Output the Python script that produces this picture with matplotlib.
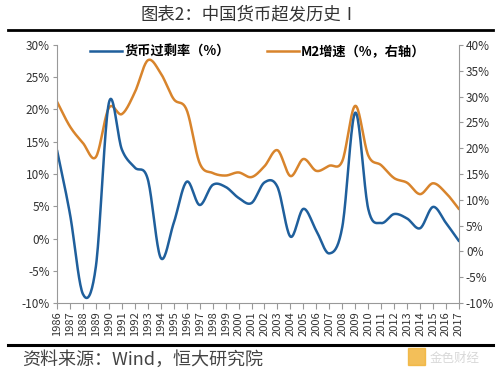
import numpy as np
import matplotlib.pyplot as plt
from matplotlib.lines import Line2D

plt.rcParams['font.family'] = ['Liberation Sans Narrow', 'Noto Sans CJK SC', 'DejaVu Sans']

years = list(range(1986, 2018))
excess = [13.7, 3.8, -8.6, -4.3, 21.0, 13.8, 11.0, 9.2, -3.0, 2.4, 8.8, 5.2, 8.3, 8.0,
          6.3, 5.5, 8.7, 8.0, 0.3, 4.6, 1.2, -2.3, 1.8, 19.5, 4.6, 2.4, 3.8, 3.1,
          1.6, 4.9, 2.4, -0.4]
m2 = [29.0, 24.2, 21.0, 18.3, 27.8, 26.6, 30.8, 37.0, 34.5, 29.5, 27.4, 17.1, 15.2, 14.7,
      15.3, 14.4, 16.5, 19.6, 14.6, 17.9, 15.6, 16.6, 17.5, 28.2, 18.6, 16.7, 14.2,
      13.3, 11.1, 13.2, 11.3, 8.2]

BLUE = '#1f5f9c'
ORANGE = '#d8842c'


def smooth(x, y, n=20):
    # Catmull-Rom style smoothing, similar to Excel's smoothed line
    x = np.asarray(x, float)
    y = np.asarray(y, float)
    px = np.concatenate([[2 * x[0] - x[1]], x, [2 * x[-1] - x[-2]]])
    py = np.concatenate([[2 * y[0] - y[1]], y, [2 * y[-1] - y[-2]]])
    xs, ys = [], []
    t = np.linspace(0, 1, n, endpoint=False)
    for i in range(1, len(px) - 2):
        for p, out in ((px, xs), (py, ys)):
            p0, p1, p2, p3 = p[i - 1], p[i], p[i + 1], p[i + 2]
            out.extend(0.5 * ((2 * p1) + (-p0 + p2) * t
                              + (2 * p0 - 5 * p1 + 4 * p2 - p3) * t ** 2
                              + (-p0 + 3 * p1 - 3 * p2 + p3) * t ** 3))
    xs.append(x[-1])
    ys.append(y[-1])
    return np.array(xs), np.array(ys)


fig = plt.figure(figsize=(5, 3.77), dpi=100)
ax = fig.add_axes([0.114, 0.196, 0.804, 0.685])
ax2 = ax.twinx()

ax2.plot(*smooth(years, m2), color=ORANGE, lw=1.8, solid_capstyle='round')
ax.plot(*smooth(years, excess), color=BLUE, lw=1.8, solid_capstyle='round')
ax.set_zorder(ax2.get_zorder() + 1)
ax.patch.set_visible(False)

ax.set_xlim(1986, 2017)
ax.set_ylim(-10, 30)
ax2.set_ylim(-10, 40)
ax.set_xticks(years)
ax.set_xticklabels([str(y) for y in years], rotation=90, fontsize=8)
ax.set_yticks(range(-10, 31, 5))
ax.set_yticklabels([f'{v}%' for v in range(-10, 31, 5)], fontsize=8.5)
ax2.set_yticks(range(-10, 41, 5))
ax2.set_yticklabels([f'{v}%' for v in range(-10, 41, 5)], fontsize=8.5)

for a in (ax, ax2):
    for s in a.spines.values():
        s.set_visible(False)
    a.tick_params(colors='#333333', length=3, width=0.8, pad=2)
    a.tick_params(axis='both', color='#999999')
ax.spines['left'].set_visible(True)
ax.spines['left'].set_color('#999999')
ax.spines['bottom'].set_visible(True)
ax.spines['bottom'].set_color('#999999')
ax2.spines['right'].set_visible(True)
ax2.spines['right'].set_color('#999999')
ax.tick_params(axis='x', length=4, pad=2)

handles = [Line2D([], [], color=BLUE, lw=1.8), Line2D([], [], color=ORANGE, lw=1.8)]
ax.legend(handles, ['货币过剩率（%）', 'M2增速（%，右轴）'], loc='upper center',
          bbox_to_anchor=(0.5, 1.045), ncol=2, frameon=False, handlelength=2.4,
          columnspacing=2.8, handletextpad=0.2,
          prop={'family': ['Noto Sans CJK SC', 'DejaVu Sans'], 'size': 9.5, 'weight': 'bold'})

fig.text(0.5, 0.962, '图表2：中国货币超发历史Ⅰ', ha='center', va='center', fontsize=12.5,
         family=['Noto Sans CJK SC', 'DejaVu Sans'], color='#333333')
fig.add_artist(Line2D([0.016, 0.986], [0.92, 0.92], color='black', lw=2))
fig.add_artist(Line2D([0.016, 0.986], [0.085, 0.085], color='black', lw=2.2))
fig.text(0.044, 0.046, '资料来源：Wind，恒大研究院', ha='left', va='center', fontsize=13,
         family=['Noto Sans CJK SC', 'DejaVu Sans'], color='#444444', style='italic')
fig.text(0.86, 0.05, '金色财经', ha='left', va='center', fontsize=9,
         family=['Noto Sans CJK SC', 'DejaVu Sans'], color='#d8d8d8')
fig.add_artist(plt.Rectangle((0.815, 0.032), 0.035, 0.045, color='#f0b030',
                             transform=fig.transFigure, alpha=0.8))

fig.savefig('out.png', dpi=100)
plt.close(fig)
